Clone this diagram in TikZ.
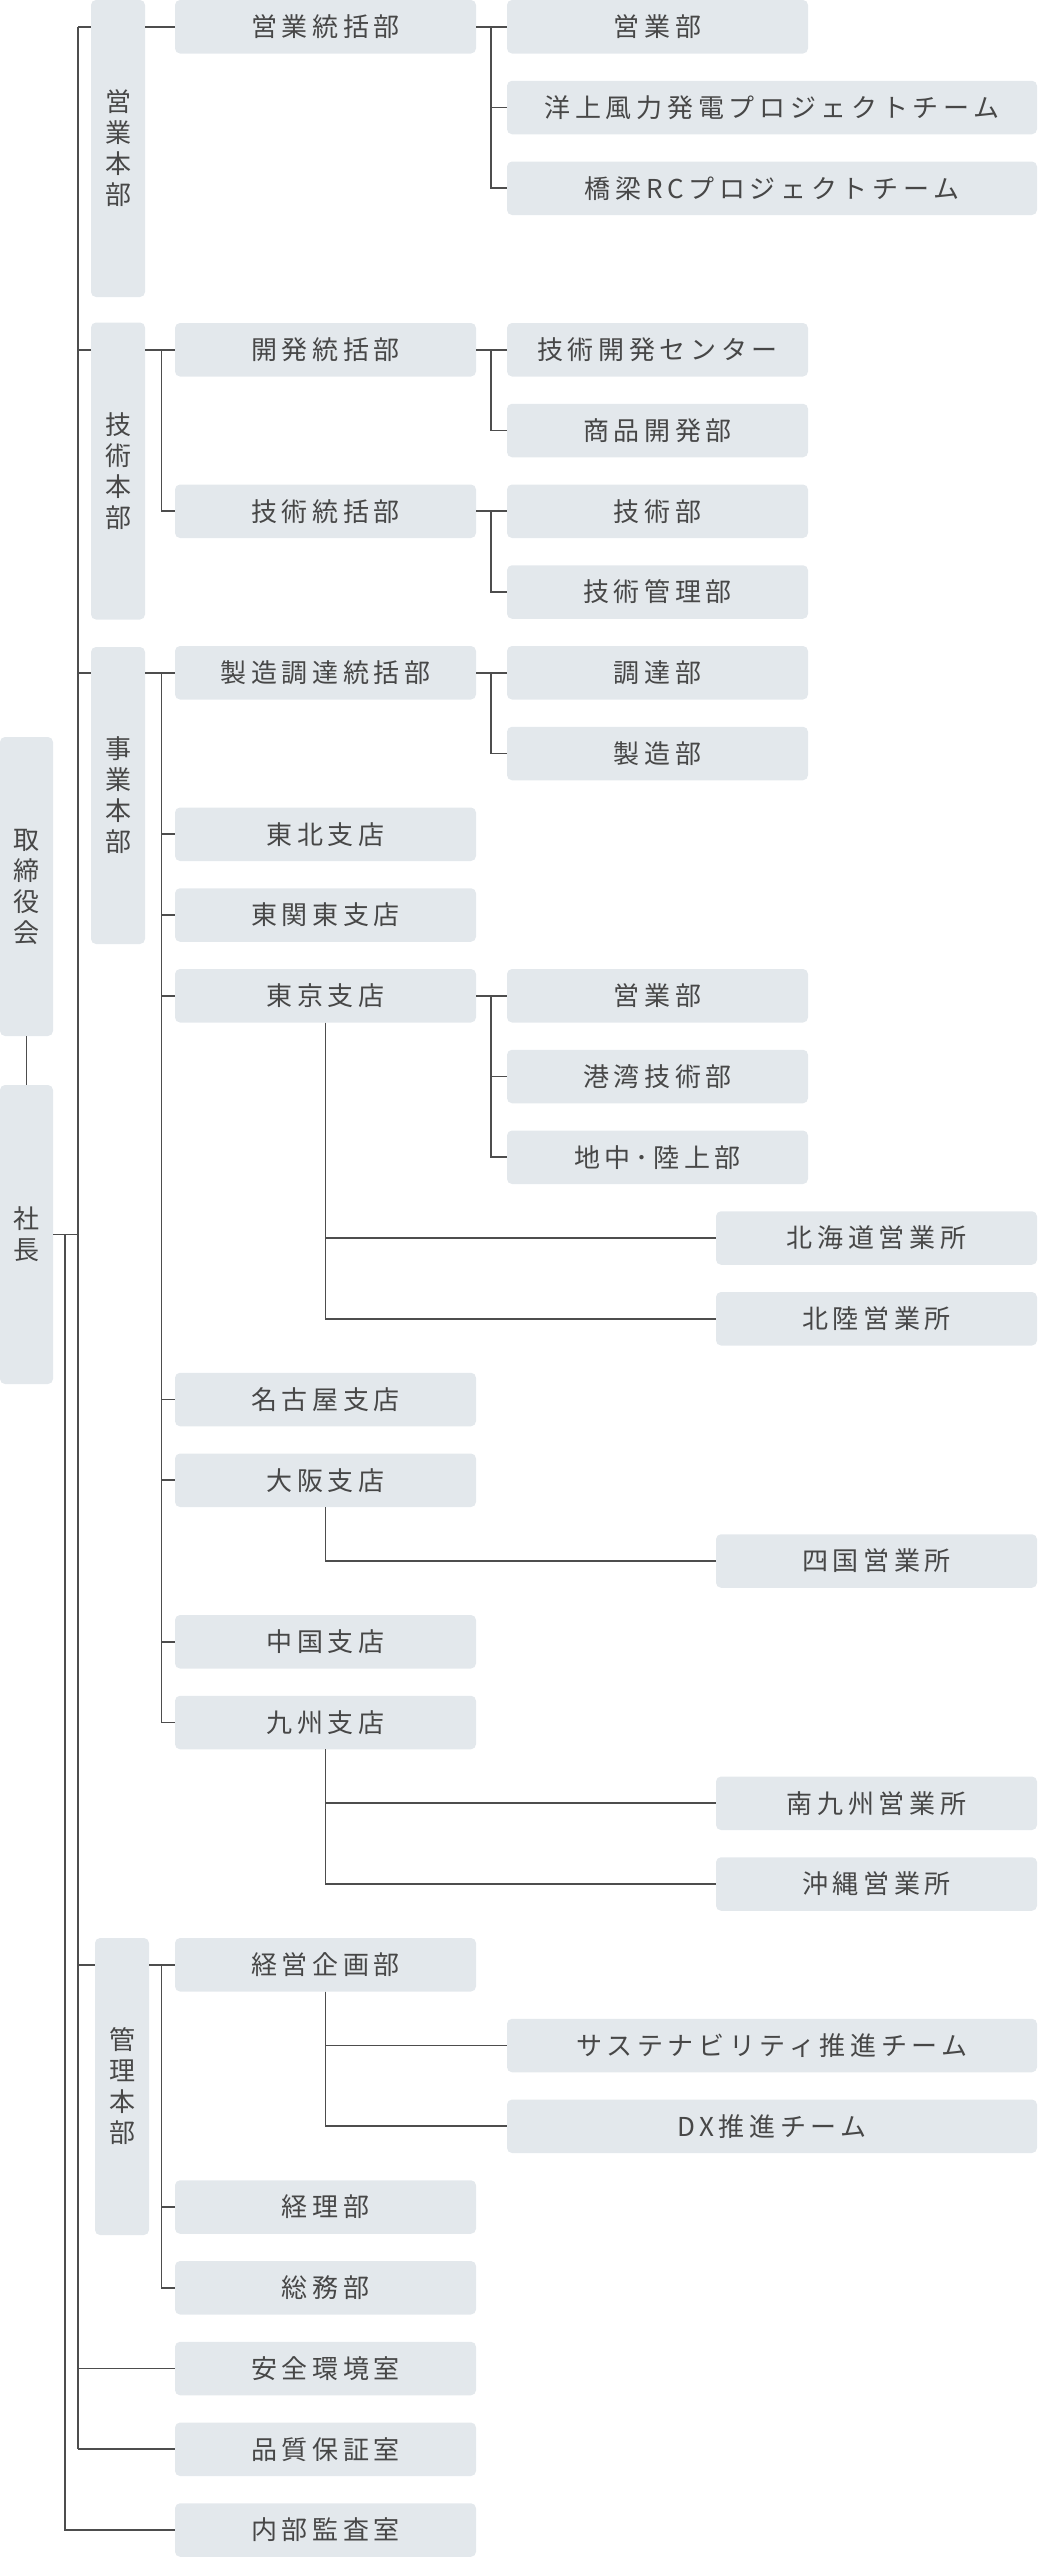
\documentclass[tikz,border=0pt]{standalone}
\usepackage{fontspec}
\newfontfamily\jp[LetterSpace=18]{Noto Sans CJK JP}
\newfontfamily\jpv{Noto Sans CJK JP}
\definecolor{boxgray}{HTML}{E3E8EC}
\definecolor{linegray}{HTML}{4D4D4D}
\definecolor{textgray}{HTML}{474747}

\begin{document}
\begin{tikzpicture}[x = 1pt, y = -1pt,
	unit/.style = {fill = boxgray, rounded corners = 5pt, inner sep = 0pt, minimum height = 53.5pt, text = textgray, font = \jp\fontsize{26}{31}\selectfont},
	dept/.style = {unit, minimum width = 301pt},
	wide/.style = {unit, minimum width = 530pt},
	office/.style = {unit, minimum width = 321pt},
	tall/.style = {unit, minimum width = 54pt, minimum height = 297pt, align = center, font = \jpv\fontsize{26}{31}\selectfont},
	link/.style = {draw = linegray, line width = 1.6pt}]
	\useasboundingbox (0, 0) rectangle (1037, 2557);

	% top
	\node[tall, minimum width = 53pt, minimum height = 299pt](torishimari) at (26.5, 886.5){取\\締\\役\\会};
	\node[tall, minimum width = 53pt, minimum height = 299pt](shacho) at (26.5, 1234.5){社\\長};

	% honbu
	\node[tall](eigyohonbu) at (118, 148.5){営\\業\\本\\部};
	\node[tall](gijutsuhonbu) at (118, 471){技\\術\\本\\部};
	\node[tall](jigyohonbu) at (118, 795.5){事\\業\\本\\部};
	\node[tall](kanrihonbu) at (122, 2086.5){管\\理\\本\\部};

	% second column
	\node[dept](eigyotokatsu) at (325.5, 26.75){営業統括部};
	\node[dept](kaihatsu) at (325.5, 349.75){開発統括部};
	\node[dept](gijutsutokatsu) at (325.5, 511.25){技術統括部};
	\node[dept](seizo) at (325.5, 672.75){製造調達統括部};
	\node[dept](tohoku) at (325.5, 834.25){東北支店};
	\node[dept](higashikanto) at (325.5, 915){東関東支店};
	\node[dept](tokyo) at (325.5, 995.75){東京支店};
	\node[dept](nagoya) at (325.5, 1399.5){名古屋支店};
	\node[dept](osaka) at (325.5, 1480.25){大阪支店};
	\node[dept](chugoku) at (325.5, 1641.75){中国支店};
	\node[dept](kyushu) at (325.5, 1722.5){九州支店};
	\node[dept](keiei) at (325.5, 1964.75){経営企画部};
	\node[dept](keiri) at (325.5, 2207){経理部};
	\node[dept](somu) at (325.5, 2287.75){総務部};
	\node[dept](anzen) at (325.5, 2368.5){安全環境室};
	\node[dept](hinshitsu) at (325.5, 2449.25){品質保証室};
	\node[dept](kansa) at (325.5, 2530){内部監査室};

	% third column
	\node[dept](eigyoa) at (657.5, 26.75){営業部};
	\node[wide](yojo) at (772, 107.5){洋上風力発電プロジェクトチーム};
	\node[wide](kyoryo) at (772, 188.25){橋梁RCプロジェクトチーム};
	\node[dept](gijutsukaihatsu) at (657.5, 349.75){技術開発センター};
	\node[dept](shohin) at (657.5, 430.5){商品開発部};
	\node[dept](gijutsu) at (657.5, 511.25){技術部};
	\node[dept](gijutsukanri) at (657.5, 592){技術管理部};
	\node[dept](chotatsu) at (657.5, 672.75){調達部};
	\node[dept](seizobu) at (657.5, 753.5){製造部};
	\node[dept](eigyob) at (657.5, 995.75){営業部};
	\node[dept](kowan) at (657.5, 1076.5){港湾技術部};
	\node[dept](chichu) at (657.5, 1157.25){地中･陸上部};
	\node[wide](sustain) at (772, 2045.5){サステナビリティ推進チーム};
	\node[wide](dx) at (772, 2126.25){DX推進チーム};

	% offices
	\node[office](hokkaido) at (876.5, 1238){北海道営業所};
	\node[office](hokuriku) at (876.5, 1318.75){北陸営業所};
	\node[office](shikoku) at (876.5, 1561){四国営業所};
	\node[office](minamikyushu) at (876.5, 1803.25){南九州営業所};
	\node[office](okinawa) at (876.5, 1884){沖縄営業所};

	\coordinate(trunk) at (78, 0);
	\coordinate(trunkb) at (65, 0);
	\coordinate(sub) at (161.5, 0);
	\coordinate(fork) at (491, 0);

	% lines
	\draw[link] (torishimari.south)--(shacho.north);
	\draw[link] (shacho.east)--(trunk |- shacho);
	\draw[link] (trunk |- eigyotokatsu)--(trunk |- hinshitsu);
	\draw[link] (trunkb |- shacho) |- (kansa.west);
	\draw[link] (trunk |- anzen)--(anzen.west);
	\draw[link] (trunk |- hinshitsu)--(hinshitsu.west);
	\foreach \h/\c in {eigyohonbu/eigyotokatsu, gijutsuhonbu/kaihatsu, jigyohonbu/seizo, kanrihonbu/keiei}{
		\draw[link] (trunk |- \c)--(\h.west |- \c);
		\draw[link] (\h.east |- \c)--(\c.west);
	}
	\draw[link] (sub |- kaihatsu) |- (gijutsutokatsu.west);
	\foreach \c in {tohoku, higashikanto, tokyo, nagoya, osaka, chugoku, kyushu}
		\draw[link] (sub |- seizo) |- (\c.west);
	\foreach \c in {keiri, somu}
		\draw[link] (sub |- keiei) |- (\c.west);

	\foreach \a/\b in {eigyotokatsu/eigyoa, kaihatsu/gijutsukaihatsu, gijutsutokatsu/gijutsu, seizo/chotatsu, tokyo/eigyob}
		\draw[link] (\a.east)--(\b.west);
	\foreach \a/\b in {eigyotokatsu/yojo, eigyotokatsu/kyoryo, kaihatsu/shohin, gijutsutokatsu/gijutsukanri, seizo/seizobu, tokyo/kowan, tokyo/chichu}
		\draw[link] (fork |- \a) |- (\b.west);
	\foreach \a/\b in {tokyo/hokkaido, tokyo/hokuriku, osaka/shikoku, kyushu/minamikyushu, kyushu/okinawa, keiei/sustain, keiei/dx}
		\draw[link] (\a.south) |- (\b.west);
\end{tikzpicture}
\end{document}
